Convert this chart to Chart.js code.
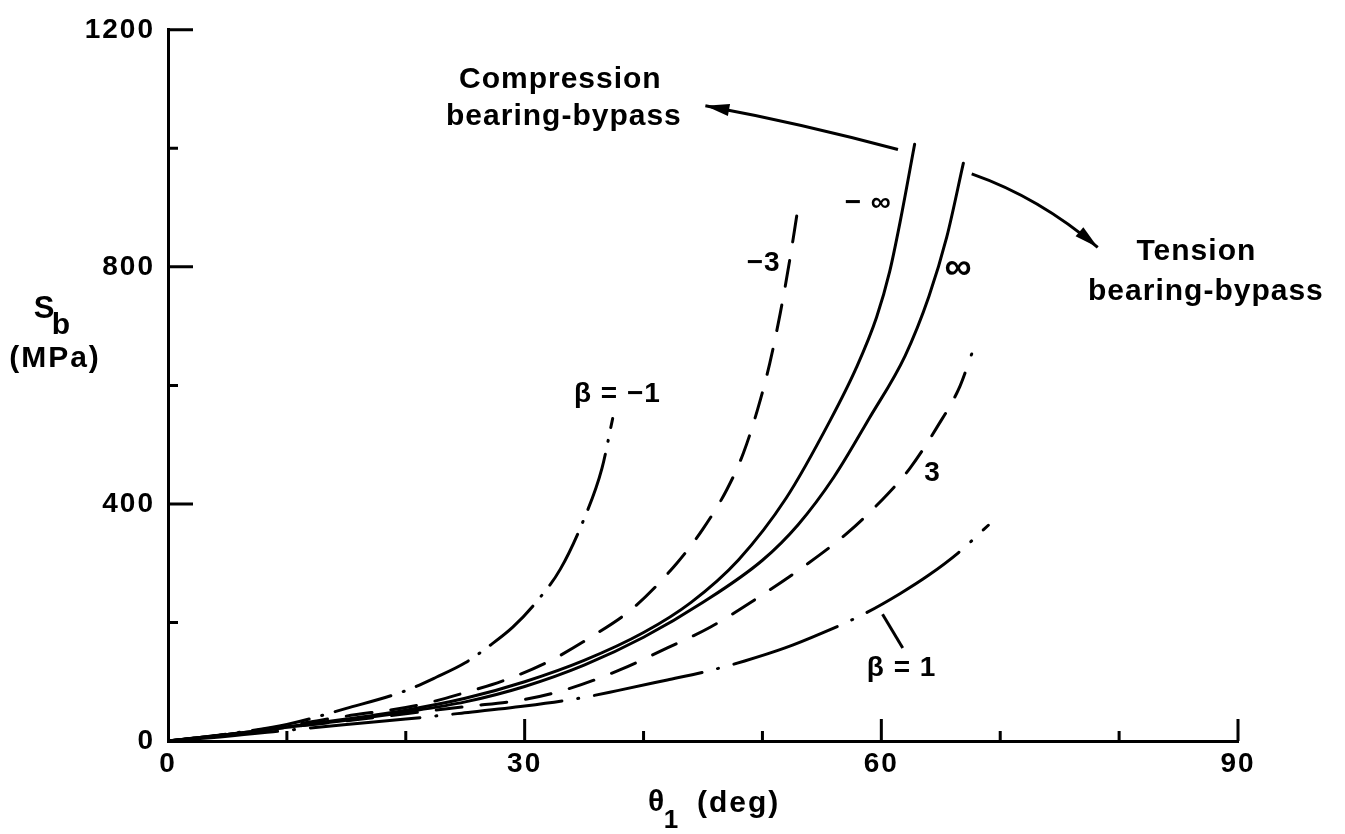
<!DOCTYPE html>
<html>
<head>
<meta charset="utf-8">
<script src="https://cdn.jsdelivr.net/npm/chart.js@4.4.1/dist/chart.umd.min.js"></script>
<style>
html, body { margin: 0; padding: 0; background: #fff; }
</style>
</head>
<body>
<canvas id="chart" width="1345" height="834"></canvas>
<script>
// bearing strength S_b (MPa) against theta_1 (deg), one curve per beta
const thetaBetaMinus1 = [0, 5, 10, 15, 20, 22.6, 25, 27, 29, 31, 33, 35, 36.5, 37.4]
const sbBetaMinus1 = [0, 12, 28, 55, 85, 108, 132, 160, 192, 235, 290, 375, 460, 544]
const thetaMinus3 = [0, 5, 10, 15, 20.9, 24.7, 28.5, 32.1, 35.7, 39.1, 42.8, 45, 47, 48.4, 49.6, 50.6, 51.5, 52.3, 52.9]
const sbMinus3 = [0, 11, 26, 42, 60, 80, 104, 135, 177, 224, 300, 358, 424, 486, 560, 636, 722, 812, 888]
const thetaMinusInf = [0, 5, 10, 15, 20, 25, 30, 35, 40, 44, 48, 52, 55.7, 57.9, 59.6, 60.7, 61.6, 62.8]
const sbMinusInf = [0, 11, 24, 37, 52, 72, 100, 136, 183, 234, 306, 410, 541, 630, 715, 792, 878, 1007]
const thetaInf = [0, 5, 10, 15, 20, 25, 30, 35, 40, 45, 50, 53, 56, 59, 62, 64, 65.5, 66.9]
const sbInf = [0, 11, 23, 35, 49, 66, 92, 128, 175, 234, 305, 365, 445, 545, 650, 750, 850, 975]
const thetaPlus3 = [0, 5, 10, 15, 20, 25, 30, 34, 38, 42, 45.6, 49.1, 53.8, 57.2, 60.5, 62.4, 64.7, 66.6, 67.6]
const sbPlus3 = [0, 10, 23, 34, 46, 58, 70, 90, 120, 157, 192, 235, 299, 352, 416, 460, 530, 598, 653]
const thetaBeta1 = [0, 5, 10, 15, 20, 24.7, 30, 34.8, 37.8, 42, 45, 48.5, 51.9, 55, 58.6, 61.6, 64, 66.5, 69]
const sbBeta1 = [0, 8, 18, 28, 37, 47, 59, 73, 85, 103, 116, 135, 157, 182, 215, 249, 280, 318, 364]

const xTickLabels = [0, 30, 60, 90]
const yTickLabels = [0, 400, 800, 1200]

// text placed on the plot, in data units
const curveLabels = [
    { text: 'β = −1', at: [37.8, 585] },
    { text: '−3', at: [50.1, 806] },
    { text: '− ∞', at: [58.9, 908] },
    { text: '∞', at: [66.5, 798] },
    { text: '3', at: [64.3, 452] },
    { text: 'β = 1', at: [61.7, 122] }
]

const FONT = "'Liberation Sans', Arial, sans-serif"

const makeSeries = (xs, ys) => xs.map((x, i) => ({ x: x, y: ys[i] }))

const drawArrow = (ctx, from, ctrl, to) => {
    ctx.beginPath()
    ctx.moveTo(from[0], from[1])
    ctx.quadraticCurveTo(ctrl[0], ctrl[1], to[0], to[1])
    ctx.stroke()
    const ang = Math.atan2(to[1] - ctrl[1], to[0] - ctrl[0])
    const len = 24
    const half = 6
    ctx.beginPath()
    ctx.moveTo(to[0], to[1])
    ctx.lineTo(to[0] - len * Math.cos(ang) + half * Math.sin(ang), to[1] - len * Math.sin(ang) - half * Math.cos(ang))
    ctx.lineTo(to[0] - len * Math.cos(ang) - half * Math.sin(ang), to[1] - len * Math.sin(ang) + half * Math.cos(ang))
    ctx.closePath()
    ctx.fill()
}

const inkPlugin = {
    id: 'ink',
    beforeDraw(chart) {
        chart.ctx.letterSpacing = '2px'
    },
    beforeDatasetsDraw(chart) {
        chart.ctx.letterSpacing = '0px'
    },
    afterDraw(chart) {
        const ctx = chart.ctx
        const xs = chart.scales.x
        const ys = chart.scales.y
        const px = (v) => xs.getPixelForValue(v)
        const py = (v) => ys.getPixelForValue(v)
        ctx.save()
        ctx.strokeStyle = '#000'
        ctx.fillStyle = '#000'
        ctx.lineWidth = 3

        // inward tick marks
        ctx.beginPath()
        xs.ticks.forEach((t) => {
            if (t.value === 0) return
            const len = t.value % 30 === 0 ? 22 : 10
            ctx.moveTo(px(t.value), ys.bottom)
            ctx.lineTo(px(t.value), ys.bottom - len)
        })
        ys.ticks.forEach((t) => {
            if (t.value === 0) return
            const len = t.value % 400 === 0 ? 25 : 10
            ctx.moveTo(xs.left, py(t.value))
            ctx.lineTo(xs.left + len, py(t.value))
        })
        ctx.stroke()

        // curve labels
        ctx.textAlign = 'center'
        ctx.textBaseline = 'middle'
        ctx.letterSpacing = '1px'
        curveLabels.forEach((l) => {
            ctx.font = l.text === '∞' ? `bold 38px ${FONT}` : `bold 28px ${FONT}`
            ctx.fillText(l.text, px(l.at[0]), py(l.at[1]))
        })
        ctx.beginPath()
        ctx.moveTo(px(60.1), py(214))
        ctx.lineTo(px(61.8), py(157))
        ctx.stroke()

        // bearing-bypass notes and arrows
        ctx.font = `bold 30px ${FONT}`
        ctx.fillText('Compression', px(33.0), py(1115))
        ctx.fillText('bearing-bypass', px(33.3), py(1053))
        ctx.fillText('Tension', px(86.5), py(825))
        ctx.fillText('bearing-bypass', px(87.3), py(758))
        drawArrow(ctx, [px(61.4), py(998)], [px(53.3), py(1042)], [px(45.2), py(1072)])
        drawArrow(ctx, [px(67.6), py(957)], [px(73.3), py(917)], [px(78.2), py(833)])

        // axis titles
        ctx.font = `bold 30px ${FONT}`
        ctx.letterSpacing = '2px'
        ctx.fillText('θ', 657, 803)
        ctx.font = `bold 26px ${FONT}`
        ctx.fillText('1', 672, 821)
        ctx.font = `bold 30px ${FONT}`
        ctx.textAlign = 'left'
        ctx.fillText('(deg)', 697, 804)
        ctx.textAlign = 'center'
        ctx.font = `bold 31px ${FONT}`
        ctx.fillText('S', 45, 309)
        ctx.font = `bold 30px ${FONT}`
        ctx.fillText('b', 62, 326)
        ctx.fillText('(MPa)', 55, 359)
        ctx.restore()
    }
}

const line = (label, xs, ys, dash) => ({
    label: label,
    data: makeSeries(xs, ys),
    borderColor: '#000',
    borderWidth: 3,
    borderDash: dash,
    borderCapStyle: 'round',
    pointRadius: 0,
    cubicInterpolationMode: 'monotone',
    fill: false
})

const tickFont = { family: FONT, size: 28, weight: 'bold' }

new Chart(document.getElementById('chart').getContext('2d'), {
    type: 'line',
    data: {
        datasets: [
            line('β = −1', thetaBetaMinus1, sbBetaMinus1, [58, 13, 1, 13]),
            line('−3', thetaMinus3, sbMinus3, [26, 19]),
            line('−∞', thetaMinusInf, sbMinusInf, []),
            line('∞', thetaInf, sbInf, []),
            line('3', thetaPlus3, sbPlus3, [26, 19]),
            line('β = 1', thetaBeta1, sbBeta1, [110, 16, 1, 16])
        ]
    },
    options: {
        responsive: false,
        animation: false,
        layout: { padding: { top: 22, right: 107, left: 0, bottom: 0 } },
        plugins: {
            legend: { display: false },
            tooltip: { enabled: false }
        },
        scales: {
            x: {
                type: 'linear',
                min: 0,
                max: 90,
                grid: { display: false, drawTicks: false },
                border: { display: true, color: '#000', width: 3 },
                ticks: {
                    stepSize: 10,
                    autoSkip: false,
                    maxRotation: 0,
                    padding: 6,
                    color: '#000',
                    font: tickFont,
                    callback: (v) => (xTickLabels.includes(v) ? String(v) : '')
                },
                afterFit: (scale) => {
                    scale.height = 93
                }
            },
            y: {
                type: 'linear',
                min: 0,
                max: 1200,
                grid: { display: false, drawTicks: false },
                border: { display: true, color: '#000', width: 3 },
                ticks: {
                    stepSize: 200,
                    autoSkip: false,
                    padding: 13,
                    color: '#000',
                    font: tickFont,
                    callback: (v) => (yTickLabels.includes(v) ? String(v) : '')
                },
                afterFit: (scale) => {
                    scale.width = 168
                }
            }
        }
    },
    plugins: [inkPlugin]
})
</script>
</body>
</html>
